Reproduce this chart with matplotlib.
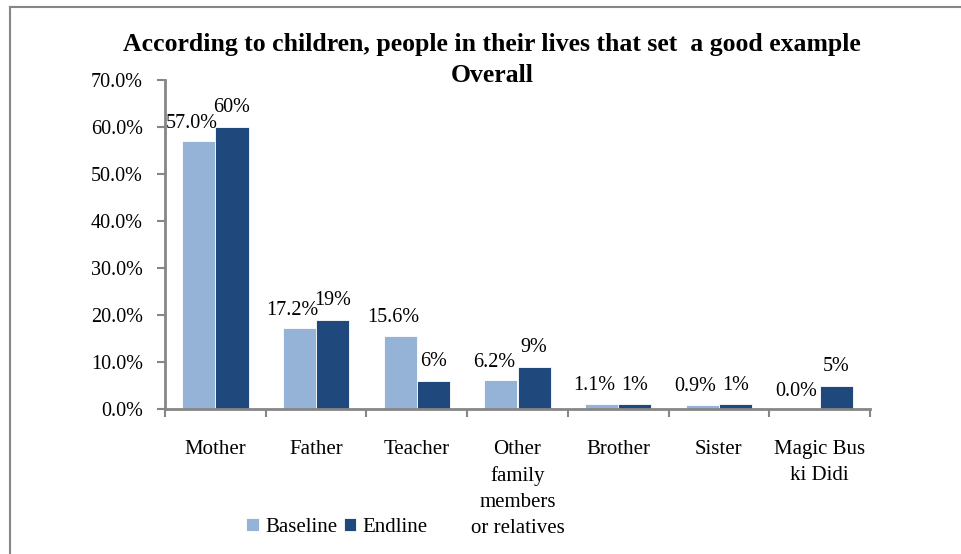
import matplotlib
matplotlib.use("Agg")
import matplotlib.pyplot as plt
from matplotlib.lines import Line2D
from matplotlib.ticker import FuncFormatter, FixedLocator
import numpy as np

categories = ["Mother", "Father", "Teacher", "Other\nfamily\nmembers\nor relatives",
              "Brother", "Sister", "Magic Bus\nki Didi"]
baseline = [57.0, 17.2, 15.6, 6.2, 1.1, 0.9, 0.0]
endline = [60, 19, 6, 9, 1, 1, 5]
series_names = ["Baseline", "Endline"]
title_lines = ["According to children, people in their lives that set  a good example", "Overall"]

plt.rcParams['font.family'] = ['Liberation Serif', 'DejaVu Serif']

c_base = "#95B3D7"
c_end = "#1F497D"
gray = "#868686"
fs = 14.5
fs_cat = 15

fig = plt.figure(figsize=(9.62, 5.54), dpi=100)
ax = fig.add_axes([165/962, 145/554, 705/962, 329/554])

x = np.arange(len(categories))
w = 0.33
b1 = ax.bar(x - w/2, baseline, w, color=c_base, edgecolor="white", linewidth=0.6, label=series_names[0])
b2 = ax.bar(x + w/2, endline, w, color=c_end, edgecolor="white", linewidth=0.6, label=series_names[1])

for xi, v in zip(x, baseline):
    ax.annotate(f"{v:.1f}%", (xi - w/2, v), xytext=(-5, 6), textcoords="offset points",
                ha="center", va="bottom", fontsize=fs)
for xi, v in zip(x, endline):
    ax.annotate(f"{v:.0f}%", (xi + w/2, v), xytext=(0, 7), textcoords="offset points",
                ha="center", va="bottom", fontsize=fs)

ax.set_xlim(-0.5, len(categories) - 0.5)
ax.set_ylim(0, 70)
ax.set_yticks(np.arange(0, 71, 10))
ax.yaxis.set_major_formatter(FuncFormatter(lambda v, p: f"{v:.1f}%"))
ax.xaxis.set_major_locator(FixedLocator(np.arange(-0.5, len(categories), 1.0)))
ax.xaxis.set_major_formatter(FuncFormatter(lambda v, p: ""))
ax.set_xticks(x, minor=True)
ax.set_xticklabels(categories, minor=True, fontsize=fs_cat, linespacing=1.5, va="top")
ax.tick_params(axis="x", which="minor", length=0, pad=22)
ax.tick_params(axis="x", which="major", length=6, width=1.5, color=gray, direction="out")
ax.tick_params(axis="y", length=6, width=1.5, color=gray, labelsize=fs, pad=10)

for s in ["top", "right"]:
    ax.spines[s].set_visible(False)
for s in ["left", "bottom"]:
    ax.spines[s].set_color(gray)
    ax.spines[s].set_linewidth(2)

fig.text(492/962, 1 - 44/554, title_lines[0], ha="center", va="center", fontsize=18.5,
         fontweight="bold")
fig.text(492/962, 1 - 76/554, title_lines[1], ha="center", va="center", fontsize=18.5,
         fontweight="bold")

fig.legend(handles=[b1, b2], labels=series_names, loc="center", bbox_to_anchor=(337/962, 1 - 527/554),
           ncol=2, frameon=False, fontsize=fs_cat, handlelength=0.6, handleheight=0.6,
           handletextpad=0.3, columnspacing=0.3)

fig.add_artist(Line2D([10/962, 1], [1 - 7/554, 1 - 7/554], color=gray, linewidth=1.5))
fig.add_artist(Line2D([10/962, 10/962], [0, 1 - 7/554], color=gray, linewidth=1.5))

fig.savefig("out.png", dpi=100)
